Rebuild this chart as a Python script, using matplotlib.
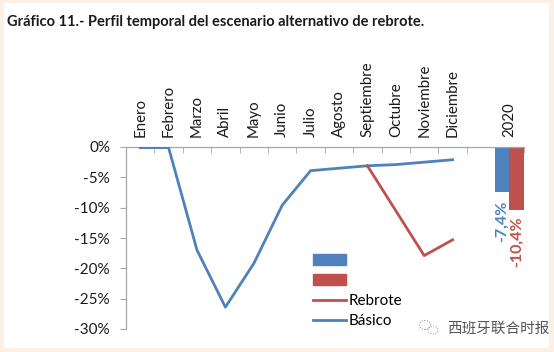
import matplotlib
matplotlib.use("Agg")
import matplotlib.pyplot as plt
from matplotlib.patches import Rectangle, Ellipse
from matplotlib.lines import Line2D
from matplotlib.patches import Patch

months = ['Enero', 'Febrero', 'Marzo', 'Abril', 'Mayo', 'Junio', 'Julio',
          'Agosto', 'Septiembre', 'Octubre', 'Noviembre', 'Diciembre']
basico = [-0.1, -0.1, -17.0, -26.4, -19.2, -9.6, -3.9, -3.5, -3.1, -2.9, -2.5, -2.1]
rebrote_months = ['Septiembre', 'Octubre', 'Noviembre', 'Diciembre']
rebrote = [-3.1, -10.5, -17.9, -15.3]
year_label = '2020'
annual_basico = -7.4
annual_rebrote = -10.4
yticks = [0, -5, -10, -15, -20, -25, -30]

BLUE = '#4F81BD'
RED = '#C0504D'
FONT = 'Lato'

plt.rcParams['font.family'] = FONT

fig = plt.figure(figsize=(5.54, 3.52), dpi=100)
fig.patch.set_facecolor('#FDEFE6')
fig.add_artist(Rectangle((4/554, 4/352), 545/554, 345/352, transform=fig.transFigure,
                         facecolor='white', edgecolor='none', zorder=0))

fig.text(7/554, 1 - 22/352, 'Gráfico 11.- Perfil temporal del escenario alternativo de rebrote.',
         fontsize=10.5, fontweight='bold', va='center', ha='left', color='#1a1a1a')

ax = fig.add_axes([126/554, 1 - 329/352, (523.6 - 126)/554, (329 - 147)/352])
ax.set_facecolor('none')

x_months = list(range(len(months)))
x_reb = [months.index(m) for m in rebrote_months]
x_year = len(months) + 1

ax.plot(x_months, basico, color=BLUE, lw=2.0, label='Básico', zorder=3)
ax.plot(x_reb, rebrote, color=RED, lw=2.0, label='Rebrote', zorder=3)

bw = 0.5
ax.bar(x_year - bw / 2, annual_basico, width=bw, color=BLUE, zorder=2)
ax.bar(x_year + bw / 2, annual_rebrote, width=bw, color=RED, zorder=2)
ax.text(x_year - bw / 2, annual_basico - 1.5, f'{annual_basico:.1f}%'.replace('.', ','),
        rotation=90, ha='center', va='top', color=BLUE, fontsize=11.5, fontweight='bold')
ax.text(x_year + bw / 2, annual_rebrote - 1.1, f'{annual_rebrote:.1f}%'.replace('.', ','),
        rotation=90, ha='center', va='top', color=RED, fontsize=11.5, fontweight='bold')

ax.set_xlim(-0.5, len(months) + 1.5)
ax.set_ylim(-30, 0)

for s in ['right', 'bottom']:
    ax.spines[s].set_visible(False)
for s in ['top', 'left']:
    ax.spines[s].set_color('#A6A6A6')
    ax.spines[s].set_linewidth(0.9)

ax.set_yticks(yticks)
ax.set_yticklabels([f'{v}%' for v in yticks])
ax.tick_params(axis='y', direction='out', length=4.5, color='#A6A6A6', pad=7,
               labelsize=11, labelcolor='#1a1a1a')

ax.xaxis.tick_top()
ax.set_xticks(x_months + [x_year])
ax.set_xticklabels(months + [year_label], rotation=90)
ax.tick_params(axis='x', which='major', length=0, pad=7, labelsize=10.8, labelcolor='#1a1a1a')
ax.set_xticks([i - 0.5 for i in range(len(months) + 3)], minor=True)
ax.tick_params(axis='x', which='minor', direction='in', length=4.5, color='#A6A6A6')

handles = [Patch(color=BLUE), Patch(color=RED),
           Line2D([], [], color=RED, lw=2.0), Line2D([], [], color=BLUE, lw=2.0)]
ax.legend(handles, ['', '', 'Rebrote', 'Básico'], loc='upper left',
          bbox_to_anchor=((305 - 126) / 397.6, (329 - 246) / 182), frameon=False,
          fontsize=11, handlelength=2.2, handletextpad=0.15, labelspacing=0.4,
          borderpad=0)

fig.text(447/554, 1 - 328/352, '西班牙联合时报', fontsize=10.5, color='#555555',
         family=['Noto Sans CJK SC', 'DejaVu Sans'], va='center', ha='left')
fig.add_artist(Ellipse((425/554, 1 - 325/352), 11/554, 9/352, transform=fig.transFigure,
                       facecolor='none', edgecolor='#888888', lw=0.7, ls=':'))
fig.add_artist(Ellipse((433/554, 1 - 330/352), 10/554, 8/352, transform=fig.transFigure,
                       facecolor='none', edgecolor='#888888', lw=0.7, ls=':'))

fig.savefig('out.png', dpi=100)
